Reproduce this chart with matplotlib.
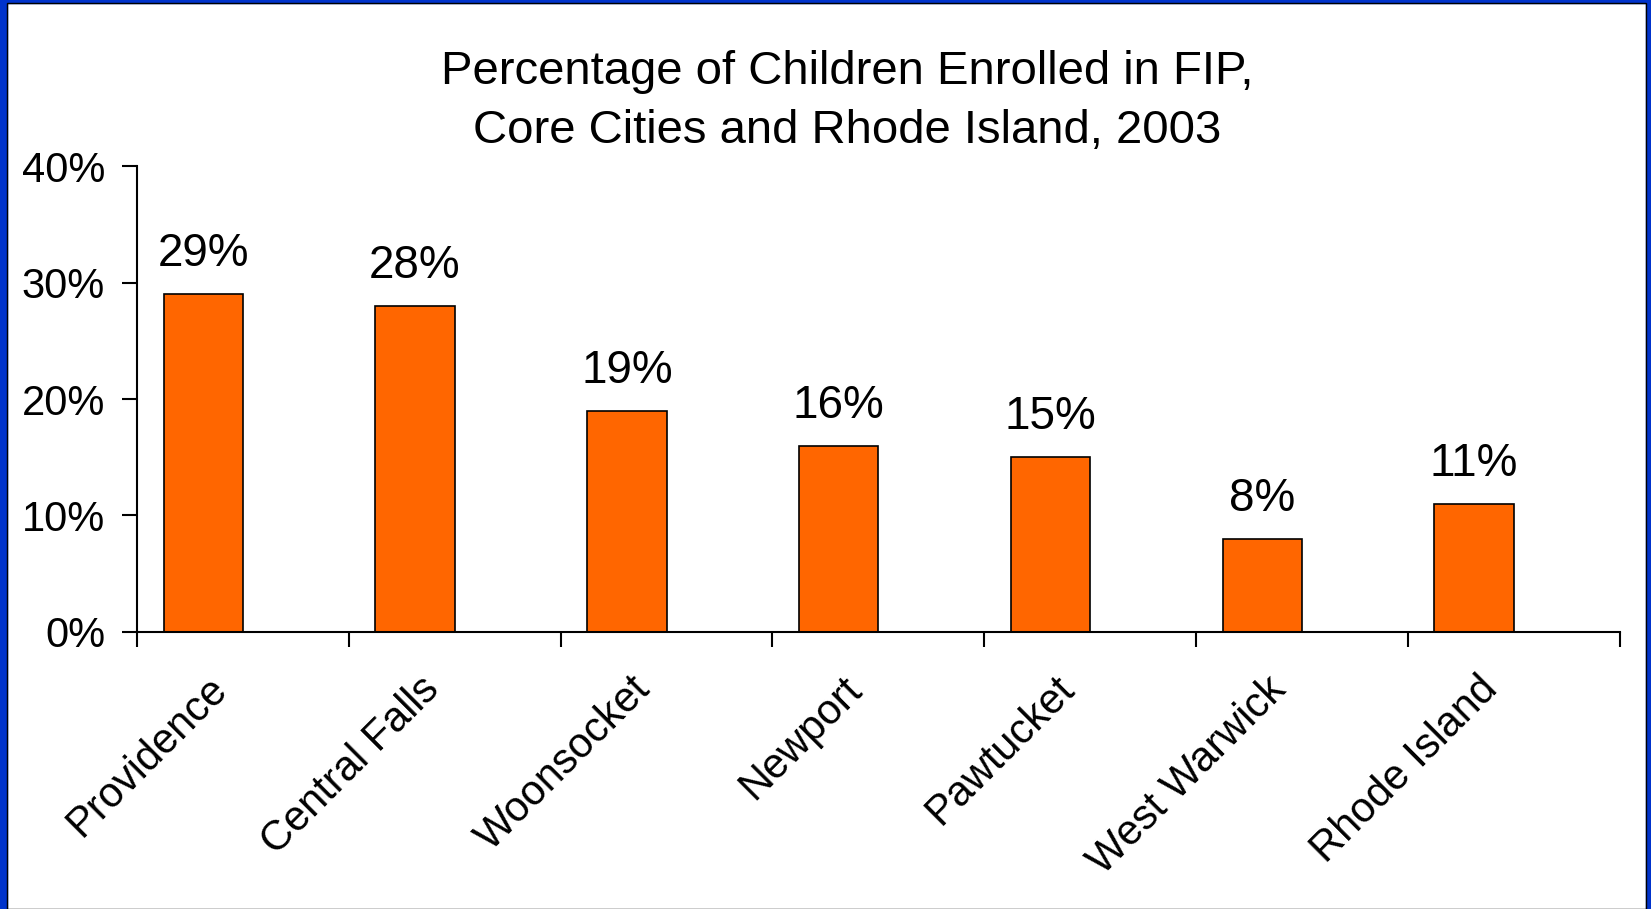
import numpy as np
import matplotlib.pyplot as plt
from matplotlib.patches import Rectangle

plt.rcParams['font.family'] = ['Liberation Sans', 'DejaVu Sans']

# data
cities = ["Providence", "Central Falls", "Woonsocket", "Newport",
          "Pawtucket", "West Warwick", "Rhode Island"]
pct = [29, 28, 19, 16, 15, 8, 11]
y_ticks = [0, 10, 20, 30, 40]

fig = plt.figure(figsize=(16.51, 9.09), dpi=100)
ax = fig.add_axes([0.083, 0.305, 0.898, 0.512])

x = np.arange(len(cities))
# bars sit in the left half of each category slot, as in the original
bx = x - 0.1875
ax.bar(bx, pct, width=0.375, color='#FF6600', edgecolor='black', linewidth=1.2)

for xi, v in zip(bx, pct):
    ax.annotate(f"{v}%", (xi, v), xytext=(0, 13), textcoords='offset points',
                ha='center', va='bottom', fontsize=33)

ax.set_xlim(-0.5, len(cities) - 0.5)
ax.set_ylim(0, 40)
ax.set_yticks(y_ticks)
ax.set_yticklabels([f"{t}%" for t in y_ticks], fontsize=30)
ax.set_xticks(np.arange(len(cities) + 1) - 0.5)
ax.set_xticklabels([])
ax.tick_params(axis='both', direction='out', length=11, width=1.5)
ax.tick_params(axis='y', pad=12)
for xi, name in zip(x, cities):
    ax.text(xi - 0.17, -3.2, name, rotation=45, ha='right', va='top',
            rotation_mode='anchor', fontsize=30)

ax.spines['top'].set_visible(False)
ax.spines['right'].set_visible(False)
ax.spines['left'].set_linewidth(1.5)
ax.spines['bottom'].set_linewidth(1.5)

fig.text(0.513, 0.888, "Percentage of Children Enrolled in FIP,\nCore Cities and Rhode Island, 2003",
         ha='center', va='center', fontsize=34, linespacing=1.45)

# blue frame
blue = '#0033CC'
fig.patches.append(Rectangle((0, 0), 7 / 1651, 1, transform=fig.transFigure, color=blue, zorder=10))
fig.patches.append(Rectangle((1 - 5 / 1651, 0), 5 / 1651, 1, transform=fig.transFigure, color=blue, zorder=10))
fig.patches.append(Rectangle((0, 1 - 3 / 909), 1, 3 / 909, transform=fig.transFigure, color=blue, zorder=10))
fig.patches.append(Rectangle((7 / 1651, 0), (1651 - 12) / 1651, (909 - 3) / 909, transform=fig.transFigure,
                             fill=False, edgecolor='black', linewidth=1, zorder=11))

fig.savefig('out.png', dpi=100)
